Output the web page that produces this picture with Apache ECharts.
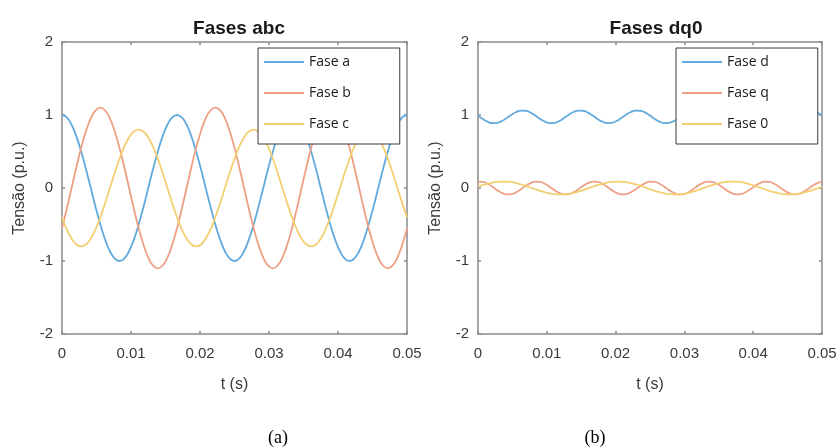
<!DOCTYPE html>
<html>
<head>
<meta charset="utf-8">
<script src="https://cdn.jsdelivr.net/npm/echarts@6/dist/echarts.min.js"></script>
<style>html,body{margin:0;padding:0;background:#fff}#c{width:840px;height:448px}</style>
</head>
<body>
<div id="c"></div>
<script>
// time samples (s)
const time = [
  0, 0.00069, 0.00139, 0.00208, 0.00278, 0.00347, 0.00417, 0.00486, 0.00556, 0.00625, 0.00694, 0.00764,
  0.00833, 0.00903, 0.00972, 0.01042, 0.01111, 0.01181, 0.01250, 0.01319, 0.01389, 0.01458, 0.01528, 0.01597,
  0.01667, 0.01736, 0.01806, 0.01875, 0.01944, 0.02014, 0.02083, 0.02153, 0.02222, 0.02292, 0.02361, 0.02431,
  0.02500, 0.02569, 0.02639, 0.02708, 0.02778, 0.02847, 0.02917, 0.02986, 0.03056, 0.03125, 0.03194, 0.03264,
  0.03333, 0.03403, 0.03472, 0.03542, 0.03611, 0.03681, 0.03750, 0.03819, 0.03889, 0.03958, 0.04028, 0.04097,
  0.04167, 0.04236, 0.04306, 0.04375, 0.04444, 0.04514, 0.04583, 0.04653, 0.04722, 0.04792, 0.04861, 0.04931,
  0.05000
];
const faseA = [
  1, 0.966, 0.866, 0.707, 0.5, 0.259, 0, -0.259, -0.5, -0.707, -0.866, -0.966,
  -1, -0.966, -0.866, -0.707, -0.5, -0.259, 0, 0.259, 0.5, 0.707, 0.866, 0.966,
  1, 0.966, 0.866, 0.707, 0.5, 0.259, 0, -0.259, -0.5, -0.707, -0.866, -0.966,
  -1, -0.966, -0.866, -0.707, -0.5, -0.259, 0, 0.259, 0.5, 0.707, 0.866, 0.966,
  1, 0.966, 0.866, 0.707, 0.5, 0.259, 0, -0.259, -0.5, -0.707, -0.866, -0.966,
  -1, -0.966, -0.866, -0.707, -0.5, -0.259, 0, 0.259, 0.5, 0.707, 0.866, 0.966,
  1
];
const faseB = [
  -0.55, -0.285, 0, 0.285, 0.55, 0.778, 0.953, 1.062, 1.1, 1.062, 0.953, 0.778,
  0.55, 0.285, 0, -0.285, -0.55, -0.778, -0.953, -1.062, -1.1, -1.062, -0.953, -0.778,
  -0.55, -0.285, 0, 0.285, 0.55, 0.778, 0.953, 1.062, 1.1, 1.062, 0.953, 0.778,
  0.55, 0.285, 0, -0.285, -0.55, -0.778, -0.953, -1.062, -1.1, -1.062, -0.953, -0.778,
  -0.55, -0.285, 0, 0.285, 0.55, 0.778, 0.953, 1.062, 1.1, 1.062, 0.953, 0.778,
  0.55, 0.285, 0, -0.285, -0.55, -0.778, -0.953, -1.062, -1.1, -1.062, -0.953, -0.778,
  -0.55
];
const faseC = [
  -0.4, -0.566, -0.693, -0.773, -0.8, -0.773, -0.693, -0.566, -0.4, -0.207, 0, 0.207,
  0.4, 0.566, 0.693, 0.773, 0.8, 0.773, 0.693, 0.566, 0.4, 0.207, 0, -0.207,
  -0.4, -0.566, -0.693, -0.773, -0.8, -0.773, -0.693, -0.566, -0.4, -0.207, 0, 0.207,
  0.4, 0.566, 0.693, 0.773, 0.8, 0.773, 0.693, 0.566, 0.4, 0.207, 0, -0.207,
  -0.4, -0.566, -0.693, -0.773, -0.8, -0.773, -0.693, -0.566, -0.4, -0.207, 0, 0.207,
  0.4, 0.566, 0.693, 0.773, 0.8, 0.773, 0.693, 0.566, 0.4, 0.207, 0, -0.207,
  -0.4
];
const faseD = [
  0.992, 0.946, 0.909, 0.889, 0.892, 0.917, 0.958, 1.004, 1.041, 1.061, 1.058, 1.033,
  0.992, 0.946, 0.909, 0.889, 0.892, 0.917, 0.958, 1.004, 1.041, 1.061, 1.058, 1.033,
  0.992, 0.946, 0.909, 0.889, 0.892, 0.917, 0.958, 1.004, 1.041, 1.061, 1.058, 1.033,
  0.992, 0.946, 0.909, 0.889, 0.892, 0.917, 0.958, 1.004, 1.041, 1.061, 1.058, 1.033,
  0.992, 0.946, 0.909, 0.889, 0.892, 0.917, 0.958, 1.004, 1.041, 1.061, 1.058, 1.033,
  0.992, 0.946, 0.909, 0.889, 0.892, 0.917, 0.958, 1.004, 1.041, 1.061, 1.058, 1.033,
  0.992
];
const faseQ = [
  0.086, 0.083, 0.058, 0.017, -0.029, -0.066, -0.086, -0.083, -0.058, -0.017, 0.029, 0.066,
  0.086, 0.083, 0.058, 0.017, -0.029, -0.066, -0.086, -0.083, -0.058, -0.017, 0.029, 0.066,
  0.086, 0.083, 0.058, 0.017, -0.029, -0.066, -0.086, -0.083, -0.058, -0.017, 0.029, 0.066,
  0.086, 0.083, 0.058, 0.017, -0.029, -0.066, -0.086, -0.083, -0.058, -0.017, 0.029, 0.066,
  0.086, 0.083, 0.058, 0.017, -0.029, -0.066, -0.086, -0.083, -0.058, -0.017, 0.029, 0.066,
  0.086, 0.083, 0.058, 0.017, -0.029, -0.066, -0.086, -0.083, -0.058, -0.017, 0.029, 0.066,
  0.086
];
const fase0 = [
  0.017, 0.039, 0.058, 0.073, 0.083, 0.088, 0.086, 0.079, 0.066, 0.049, 0.029, 0.006,
  -0.017, -0.039, -0.058, -0.073, -0.083, -0.088, -0.086, -0.079, -0.066, -0.049, -0.029, -0.006,
  0.017, 0.039, 0.058, 0.073, 0.083, 0.088, 0.086, 0.079, 0.066, 0.049, 0.029, 0.006,
  -0.017, -0.039, -0.058, -0.073, -0.083, -0.088, -0.086, -0.079, -0.066, -0.049, -0.029, -0.006,
  0.017, 0.039, 0.058, 0.073, 0.083, 0.088, 0.086, 0.079, 0.066, 0.049, 0.029, 0.006,
  -0.017, -0.039, -0.058, -0.073, -0.083, -0.088, -0.086, -0.079, -0.066, -0.049, -0.029, -0.006,
  0.017
];
const namesLeft = ['Fase a', 'Fase b', 'Fase c'];
const namesRight = ['Fase d', 'Fase q', 'Fase 0'];
const titles = ['Fases abc', 'Fases dq0'];
const captions = ['(a)', '(b)'];
const xLabel = 't (s)';
const yLabel = 'Tensão (p.u.)';

const colors = ['#62aadd', '#eda084', '#f3cf72'];
const axisColor = '#8a8a8a';
const labelColor = '#3a3a3a';
const sans = 'Liberation Sans, Arial, sans-serif';

const chart = echarts.init(document.getElementById('c'), null, {renderer: 'canvas'});

const grids = [
  {left: 62, top: 42, width: 345, height: 292},
  {left: 478, top: 42, width: 344, height: 292}
];

function xAxes(gi) {
  const base = {
    type: 'value', gridIndex: gi, min: 0, max: 0.05, interval: 0.01,
    axisLine: {show: true, onZero: false, lineStyle: {color: axisColor, width: 1.5}},
    axisTick: {show: true, inside: true, length: 3, lineStyle: {color: axisColor, width: 1.5}},
    splitLine: {show: false}
  };
  return [
    Object.assign({}, base, {
      position: 'bottom',
      name: xLabel, nameLocation: 'middle', nameGap: 43,
      nameTextStyle: {fontFamily: sans, fontSize: 16, color: labelColor},
      axisLabel: {show: true, margin: 12, fontFamily: sans, fontSize: 15, color: labelColor,
        formatter: v => String(parseFloat(v.toFixed(2)))}
    }),
    Object.assign({}, base, {position: 'top', axisLabel: {show: false}})
  ];
}
function yAxes(gi) {
  const base = {
    type: 'value', gridIndex: gi, min: -2, max: 2, interval: 1,
    axisLine: {show: true, onZero: false, lineStyle: {color: axisColor, width: 1.5}},
    axisTick: {show: true, inside: true, length: 3, lineStyle: {color: axisColor, width: 1.5}},
    splitLine: {show: false}
  };
  return [
    Object.assign({}, base, {
      position: 'left',
      name: yLabel, nameLocation: 'middle', nameGap: 34,
      nameTextStyle: {fontFamily: sans, fontSize: 16, color: labelColor},
      axisLabel: {show: true, margin: 9, fontFamily: sans, fontSize: 15, color: labelColor}
    }),
    Object.assign({}, base, {position: 'right', axisLabel: {show: false}})
  ];
}

function mk(name, data, idx, axisIdx) {
  return {
    name: name, type: 'line', xAxisIndex: axisIdx, yAxisIndex: axisIdx,
    data: time.map((t, i) => [t, data[i]]),
    symbol: 'none', smooth: true, animation: false,
    lineStyle: {color: colors[idx], width: 1.8},
    itemStyle: {color: colors[idx]}
  };
}

const legendBase = {
  orient: 'vertical', itemWidth: 40, itemHeight: 14, itemGap: 15,
  padding: [6, 49, 12, 5], backgroundColor: '#fff',
  borderColor: '#3a3a3a', borderWidth: 1, borderRadius: 0,
  itemStyle: {opacity: 0},
  textStyle: {fontFamily: 'Open Sans, sans-serif', fontSize: 14, color: '#1a1a1a', lineHeight: 16},
  selectedMode: false
};

chart.setOption({
  backgroundColor: '#fff',
  animation: false,
  title: [
    {text: titles[0], left: 234, top: 14, textAlign: 'center',
      textStyle: {fontFamily: sans, fontSize: 19, fontWeight: 'bold', color: '#1a1a1a'}},
    {text: titles[1], left: 651, top: 14, textAlign: 'center',
      textStyle: {fontFamily: sans, fontSize: 19, fontWeight: 'bold', color: '#1a1a1a'}},
    {text: captions[0], left: 273, top: 424, textAlign: 'center',
      textStyle: {fontFamily: 'Liberation Serif, Times New Roman, serif', fontSize: 18, fontWeight: 'normal', color: '#000'}},
    {text: captions[1], left: 590, top: 424, textAlign: 'center',
      textStyle: {fontFamily: 'Liberation Serif, Times New Roman, serif', fontSize: 18, fontWeight: 'normal', color: '#000'}}
  ],
  legend: [
    Object.assign({}, legendBase, {left: 258, top: 48, data: namesLeft}),
    Object.assign({}, legendBase, {left: 676, top: 48, data: namesRight})
  ],
  grid: grids,
  xAxis: xAxes(0).concat(xAxes(1)),
  yAxis: yAxes(0).concat(yAxes(1)),
  series: [
    mk(namesLeft[0], faseA, 0, 0),
    mk(namesLeft[1], faseB, 1, 0),
    mk(namesLeft[2], faseC, 2, 0),
    mk(namesRight[0], faseD, 0, 2),
    mk(namesRight[1], faseQ, 1, 2),
    mk(namesRight[2], fase0, 2, 2)
  ]
});
</script>
</body>
</html>
